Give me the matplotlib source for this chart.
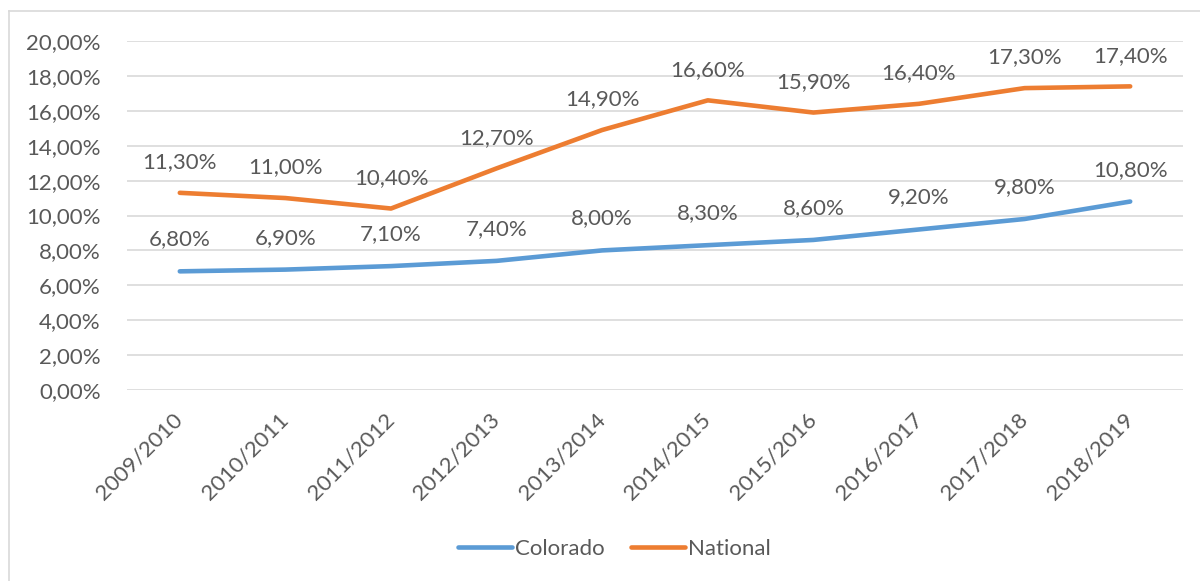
import matplotlib
matplotlib.use("Agg")
import matplotlib.pyplot as plt
from matplotlib.lines import Line2D
from matplotlib.ticker import FuncFormatter

categories = ["2009/2010", "2010/2011", "2011/2012", "2012/2013", "2013/2014",
              "2014/2015", "2015/2016", "2016/2017", "2017/2018", "2018/2019"]
colorado = [6.8, 6.9, 7.1, 7.4, 8.0, 8.3, 8.6, 9.2, 9.8, 10.8]
national = [11.3, 11.0, 10.4, 12.7, 14.9, 16.6, 15.9, 16.4, 17.3, 17.4]
yticks = [0, 2, 4, 6, 8, 10, 12, 14, 16, 18, 20]

plt.rcParams['font.family'] = ['Lato', 'DejaVu Sans']
TEXT = '#595959'
BLUE = '#5B9BD5'
ORANGE = '#ED7D31'
W, H = 1200, 581
FS = 16

fig = plt.figure(figsize=(12, 5.81), dpi=100)
ax = fig.add_axes([127 / W, 1 - 390 / H, (1183 - 127) / W, (390 - 41) / H])

# chart frame
fig.add_artist(Line2D([9 / W, 9 / W], [0, 1 - 11 / H], transform=fig.transFigure,
                      color='#D9D9D9', lw=1.2))
fig.add_artist(Line2D([9 / W, 1], [1 - 11 / H, 1 - 11 / H], transform=fig.transFigure,
                      color='#D9D9D9', lw=1.2))

x = list(range(len(categories)))
ax.plot(x, colorado, color=BLUE, lw=3.3, solid_capstyle='round', solid_joinstyle='round',
        label='Colorado', zorder=3)
ax.plot(x, national, color=ORANGE, lw=3.3, solid_capstyle='round', solid_joinstyle='round',
        label='National', zorder=3)

def fmt(v):
    return f"{v:.2f}".replace('.', ',') + '%'

for xi, v in zip(x, colorado):
    ax.annotate(fmt(v), (xi, v), xytext=(0, 23), textcoords='offset points',
                ha='center', va='center', fontsize=FS, color=TEXT)
for xi, v in zip(x, national):
    ax.annotate(fmt(v), (xi, v), xytext=(0, 22), textcoords='offset points',
                ha='center', va='center', fontsize=FS, color=TEXT)

ax.set_xlim(-0.5, len(categories) - 0.5)
ax.set_ylim(0, 20)
ax.set_yticks(yticks)
ax.yaxis.set_major_formatter(FuncFormatter(lambda v, p: fmt(v)))
ax.set_xticks(x)
ax.set_xticklabels(categories, rotation=45, ha='right', va='center', rotation_mode='anchor')
ax.tick_params(axis='both', length=0, labelsize=FS, labelcolor=TEXT)
ax.tick_params(axis='y', pad=19)
ax.tick_params(axis='x', pad=19)
ax.grid(axis='y', color='#D9D9D9', lw=1.2)
ax.set_axisbelow(True)
for s in ax.spines.values():
    s.set_visible(False)

leg = fig.legend(loc='center', bbox_to_anchor=(0.512, 1 - 549 / H), ncol=2, frameon=False,
                 fontsize=FS, handlelength=2.4, handletextpad=0.15, columnspacing=1.2,
                 labelcolor=TEXT)

fig.savefig('out.png', dpi=100)
